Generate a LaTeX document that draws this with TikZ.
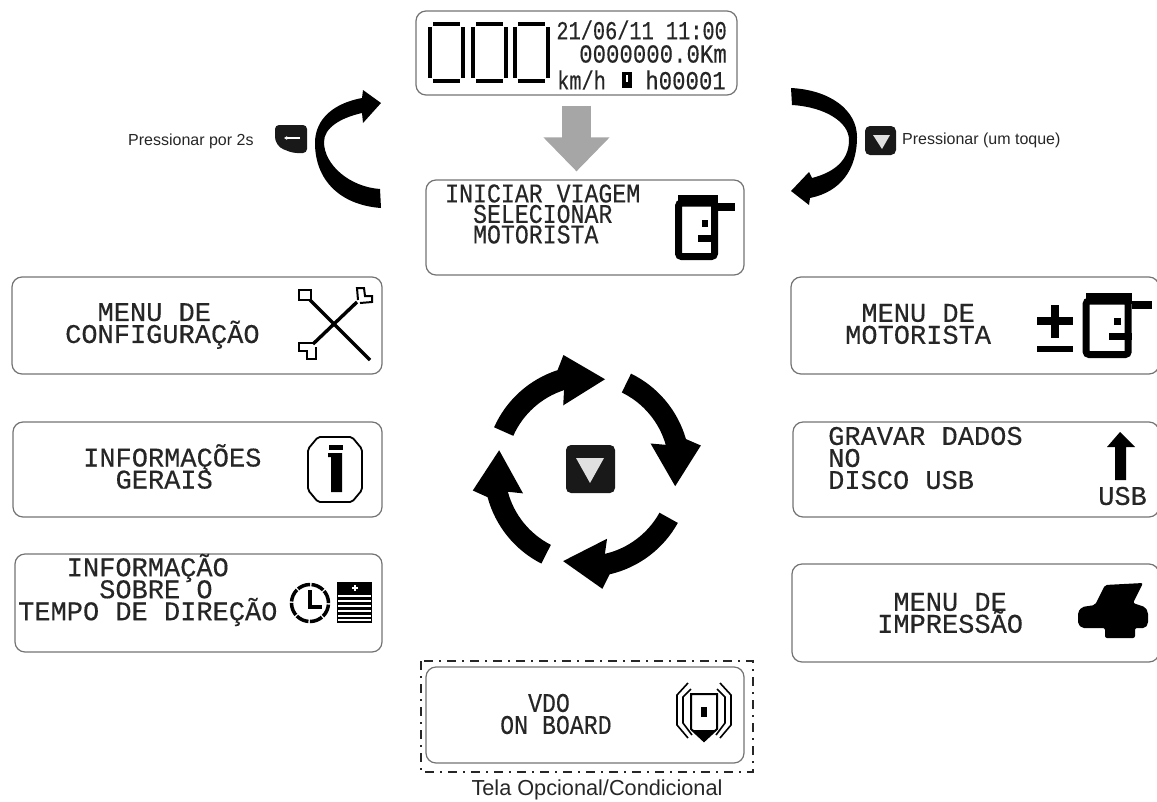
\documentclass[tikz,border=0pt]{standalone}
\usepackage{fontspec}
\setmainfont{Liberation Sans}
\newfontfamily\lcdwide[FakeBold=0.3]{Liberation Mono}
\newfontfamily\lcdnarrow[FakeStretch=0.86,FakeBold=0.3]{Liberation Mono}
\newfontfamily\lcdtight[FakeStretch=0.78,FakeBold=0.3]{Liberation Mono}
\usetikzlibrary{arrows.meta,calc}
\normallineskiplimit=-50pt
\lineskiplimit=-50pt

\tikzset{%
  panel/.style={draw=black!55, line width=1.2pt, rounded corners=10pt, inner sep=0pt},
  lcd/.style={anchor=west, align=left, inner sep=0pt, text=black!85, font=\lcdwide\fontsize{27}{22}\selectfont},
  lcdsmall/.style={lcd, font=\lcdnarrow\fontsize{27}{20.5}\selectfont},
  lcdtop/.style={anchor=east, inner sep=0pt, text=black!85, font=\lcdnarrow\fontsize{26}{26}\selectfont},
  hint/.style={inner sep=0pt, text=black!85, font=\fontsize{16}{18}\selectfont},
  glyph/.style={draw=black, line width=3.4pt},
  jaw/.style={draw=black, line width=2pt},
  keycap/.style={fill=black!90, draw=none, rounded corners=5pt, inner sep=0pt},
  keymark/.style={fill=black!12},
  bigarrow/.style={draw=black!35, line width=29pt, -{Triangle[width=64pt,length=34pt]}},
  pics/driver/.style={code={
    \fill (3,0) rectangle (43,-11);
    \fill (43,-8) rectangle (60,-16);
    \draw[line width=7pt, rounded corners=3pt] (3.5,-8) rectangle (39.5,-61.5);
    \fill (27,-25) rectangle (33,-32);
    \fill (23,-40) rectangle (43,-47);
  }},
}

\begin{document}
\begin{tikzpicture}[x=1pt,y=1pt]
\useasboundingbox (0,0) rectangle (1157,-801);

% screens
\node [panel, minimum width=321pt, minimum height=84pt] (display) at (576.5,-53) {};
\node [panel, minimum width=318pt, minimum height=95pt] (iniciar) at (585,-227.5) {};
\node [panel, minimum width=370pt, minimum height=97pt] (config) at (197,-325.5) {};
\node [panel, minimum width=369pt, minimum height=95pt] (gerais) at (197.5,-469.5) {};
\node [panel, minimum width=367pt, minimum height=98pt] (tempo) at (198.5,-603) {};
\node [panel, minimum width=368pt, minimum height=97pt] (motorista) at (975,-325.5) {};
\node [panel, minimum width=366pt, minimum height=95pt] (gravar) at (976,-469.5) {};
\node [panel, minimum width=367pt, minimum height=98pt] (impressao) at (975.5,-613) {};
\node [panel, minimum width=318pt, minimum height=96pt] (onboard) at (585,-715) {};
\draw [black!85, line width=1.8pt, dash pattern=on 9pt off 6pt on 2pt off 6pt] (421,-661) rectangle (753,-772);

% screen texts
\node [lcdsmall] (iniciartxt) at (445,-214) {INICIAR VIAGEM\\~~SELECIONAR\\~~MOTORISTA};
\node [lcd] (configtxt) at (65,-326) {~~MENU DE\\CONFIGURAÇÃO};
\node [lcd] (geraistxt) at (83,-466.5) {INFORMAÇÕES\\~~GERAIS};
\node [lcd] (tempotxt) at (18,-590) {~~~INFORMAÇÃO\\~~~~~SOBRE O\\TEMPO DE DIREÇÃO};
\node [lcd] (motoristatxt) at (845,-324) {~MENU DE\\MOTORISTA};
\node [lcd] (gravartxt) at (828,-458) {GRAVAR DADOS\\NO\\DISCO USB};
\node [lcd] (impressaotxt) at (877,-613) {~MENU DE\\IMPRESSÃO};
\node [lcdsmall, font=\lcdnarrow\fontsize{27}{22}\selectfont] (onboardtxt) at (500,-714) {~~VDO\\ON BOARD};
\node [lcd] (usbtxt) at (1098,-496) {USB};

% main display
\foreach \x in {428,471,513} {
  \fill (\x,-27) rectangle ++(4,-51);
  \fill (\x+33,-27) rectangle ++(4,-51);
  \fill (\x+5,-22) rectangle ++(27,-3.6);
  \fill (\x+5,-79.4) rectangle ++(27,-3.6);
}
\node [lcdtop, font=\lcdtight\fontsize{26}{26}\selectfont] (datetxt) at (727,-30) {21/06/11 11:00};
\node [lcdtop] (kmtxt) at (727,-54) {0000000.0Km};
\node [lcdtop, anchor=west, font=\lcdtight\fontsize{26}{26}\selectfont] (speedtxt) at (557,-80) {km/h};
\node [lcdtop] (hourstxt) at (726,-80) {h00001};
\fill (622,-72) rectangle (632,-88);
\fill [white] (626,-75) rectangle (628,-82);

\draw [bigarrow] ([yshift=-10pt]display.south) -- ([yshift=8pt]display.south |- iniciar.north);

% side arrows
\fill (381,-208) .. controls (340,-205) and (315,-180) .. (315,-143) .. controls (315,-118) and (335,-103) .. (362,-98)
  -- (363,-90) -- (381,-103) -- (363,-123) -- (362,-113)
  .. controls (340,-118) and (324,-128) .. (324,-142) .. controls (324,-165) and (350,-187) .. (380,-189) -- cycle;
\fill (791,-88) .. controls (830,-90) and (857,-110) .. (857,-137) .. controls (857,-170) and (840,-192) .. (810,-198)
  -- (809,-205) -- (791,-191) -- (809,-172) -- (812,-178)
  .. controls (835,-172) and (849,-160) .. (849,-140) .. controls (849,-122) and (825,-107) .. (792,-105) -- cycle;

% keys and hints
\fill [black!90, rounded corners=4pt] (275,-125) -- (307,-125) -- (307,-153) -- (293,-153) [rounded corners=9pt] -- (275,-146) [rounded corners=4pt] -- cycle;
\draw [white, line width=1.3pt, -{Latex[length=3pt,width=4pt]}] (300,-138) -- (284,-138);
\node [hint, anchor=west] (backhint) at (128,-141) {Pressionar por 2s};
\node [keycap, minimum width=31pt, minimum height=29pt] (downkey) at (880.5,-140.5) {};
\fill [keymark] (873,-135) -- (890,-135) -- (882,-149) -- cycle;
\node [hint, anchor=west] (downhint) at (902,-140) {Pressionar (um toque)};

% cycle
\coordinate (cycle) at (590,-470);
\foreach \a/\dx/\dy in {0/0/0,-92/-5/2,-185/-4/-2,-273/-1/0} {
  \begin{scope}[shift={(cycle)}, xshift=\dx, yshift=\dy, rotate=\a]
    \fill (156:105) arc [start angle=156, end angle=108, radius=105] -- (103:118) -- (80.6:92) -- (112.5:70)
      -- (108:84) arc [start angle=108, end angle=156, radius=84] -- cycle;
  \end{scope}
}
\node [keycap, minimum width=49pt, minimum height=48pt] (cyclekey) at (590.5,-469) {};
\fill [keymark] (576,-458) -- (604,-458) -- (590,-483) -- cycle;

% icons
\pic (driverone) at (675,-195) {driver};
\pic [xscale=1.17] (drivertwo) at (1082,-293) {driver};

\draw [glyph] (310,-300) -- (370,-360);
\draw [glyph] (357,-302) -- (313,-344);
\draw [jaw] (299,-290) rectangle (311,-300);
\draw [jaw] (358,-300) -- (357,-288) -- (364,-288) -- (365,-296) -- (372,-296) -- (372,-302) -- (360,-303);
\draw [jaw] (313,-343) -- (299,-343) -- (299,-351) -- (307,-351) -- (307,-359) -- (316,-359) -- (316,-347);

\draw [line width=1.8pt, rounded corners=2pt] (318,-437) -- (352,-437) -- (362,-449) -- (362,-490) -- (352,-502) -- (318,-502) -- (308,-490) -- (308,-449) -- cycle;
\fill (329,-445) rectangle (343,-450);
\fill (328,-453) -- (342,-453) -- (342,-492) -- (331,-492) -- (331,-457) -- (328,-457) -- cycle;

\draw [line width=3.5pt, dash pattern=on 13pt off 1.5pt] (310,-603) circle (18.5);
\draw [line width=3.5pt] (310,-590) -- (310,-607) -- (322,-607);
\fill (337,-582) rectangle (372,-623);
\fill [white] (354,-585) rectangle (356,-591);
\fill [white] (352,-587.2) rectangle (358,-588.8);
\foreach \y in {596,601,606,611,616,620} {
  \draw [white, line width=1.1pt] (338,-\y) -- (371,-\y);
}

\fill (1051,-305) rectangle (1059,-338);
\fill (1037,-317) rectangle (1073,-325);
\fill (1037,-346) rectangle (1073,-352);

\fill (1120,-432) -- (1135,-447) -- (1126,-447) -- (1126,-480) -- (1115,-480) -- (1115,-447) -- (1107,-447) -- cycle;

\fill [rounded corners=2pt] (1105,-585) -- (1143,-583) -- (1133,-603) -- (1145,-607) -- (1148,-612) -- (1148,-624) -- (1145,-628) -- (1135,-628) -- (1135,-638) -- (1105,-638) -- (1105,-628) -- (1082,-628) -- (1078,-624) -- (1078,-612) -- (1082,-607) -- (1095,-605) -- cycle;

\draw [line width=2pt] (691,-694) -- (717,-694) -- (717,-729) -- (704,-741) -- (691,-729) -- cycle;
\fill (693,-730) -- (715,-730) -- (704,-742) -- cycle;
\fill (701,-707) rectangle (707,-717);
\draw [line width=1.6pt] (688,-683) -- (677,-695) -- (677,-725) -- (688,-738);
\draw [line width=1.6pt] (691,-689) -- (683,-697) -- (683,-723) -- (692,-735);
\draw [line width=1.6pt] (720,-683) -- (731,-695) -- (731,-725) -- (720,-738);
\draw [line width=1.6pt] (717,-689) -- (725,-697) -- (725,-723) -- (716,-735);

\node [hint, font=\fontsize{21.7}{24}\selectfont] (caption) at (597,-790) {Tela Opcional/Condicional};
\end{tikzpicture}
\end{document}
